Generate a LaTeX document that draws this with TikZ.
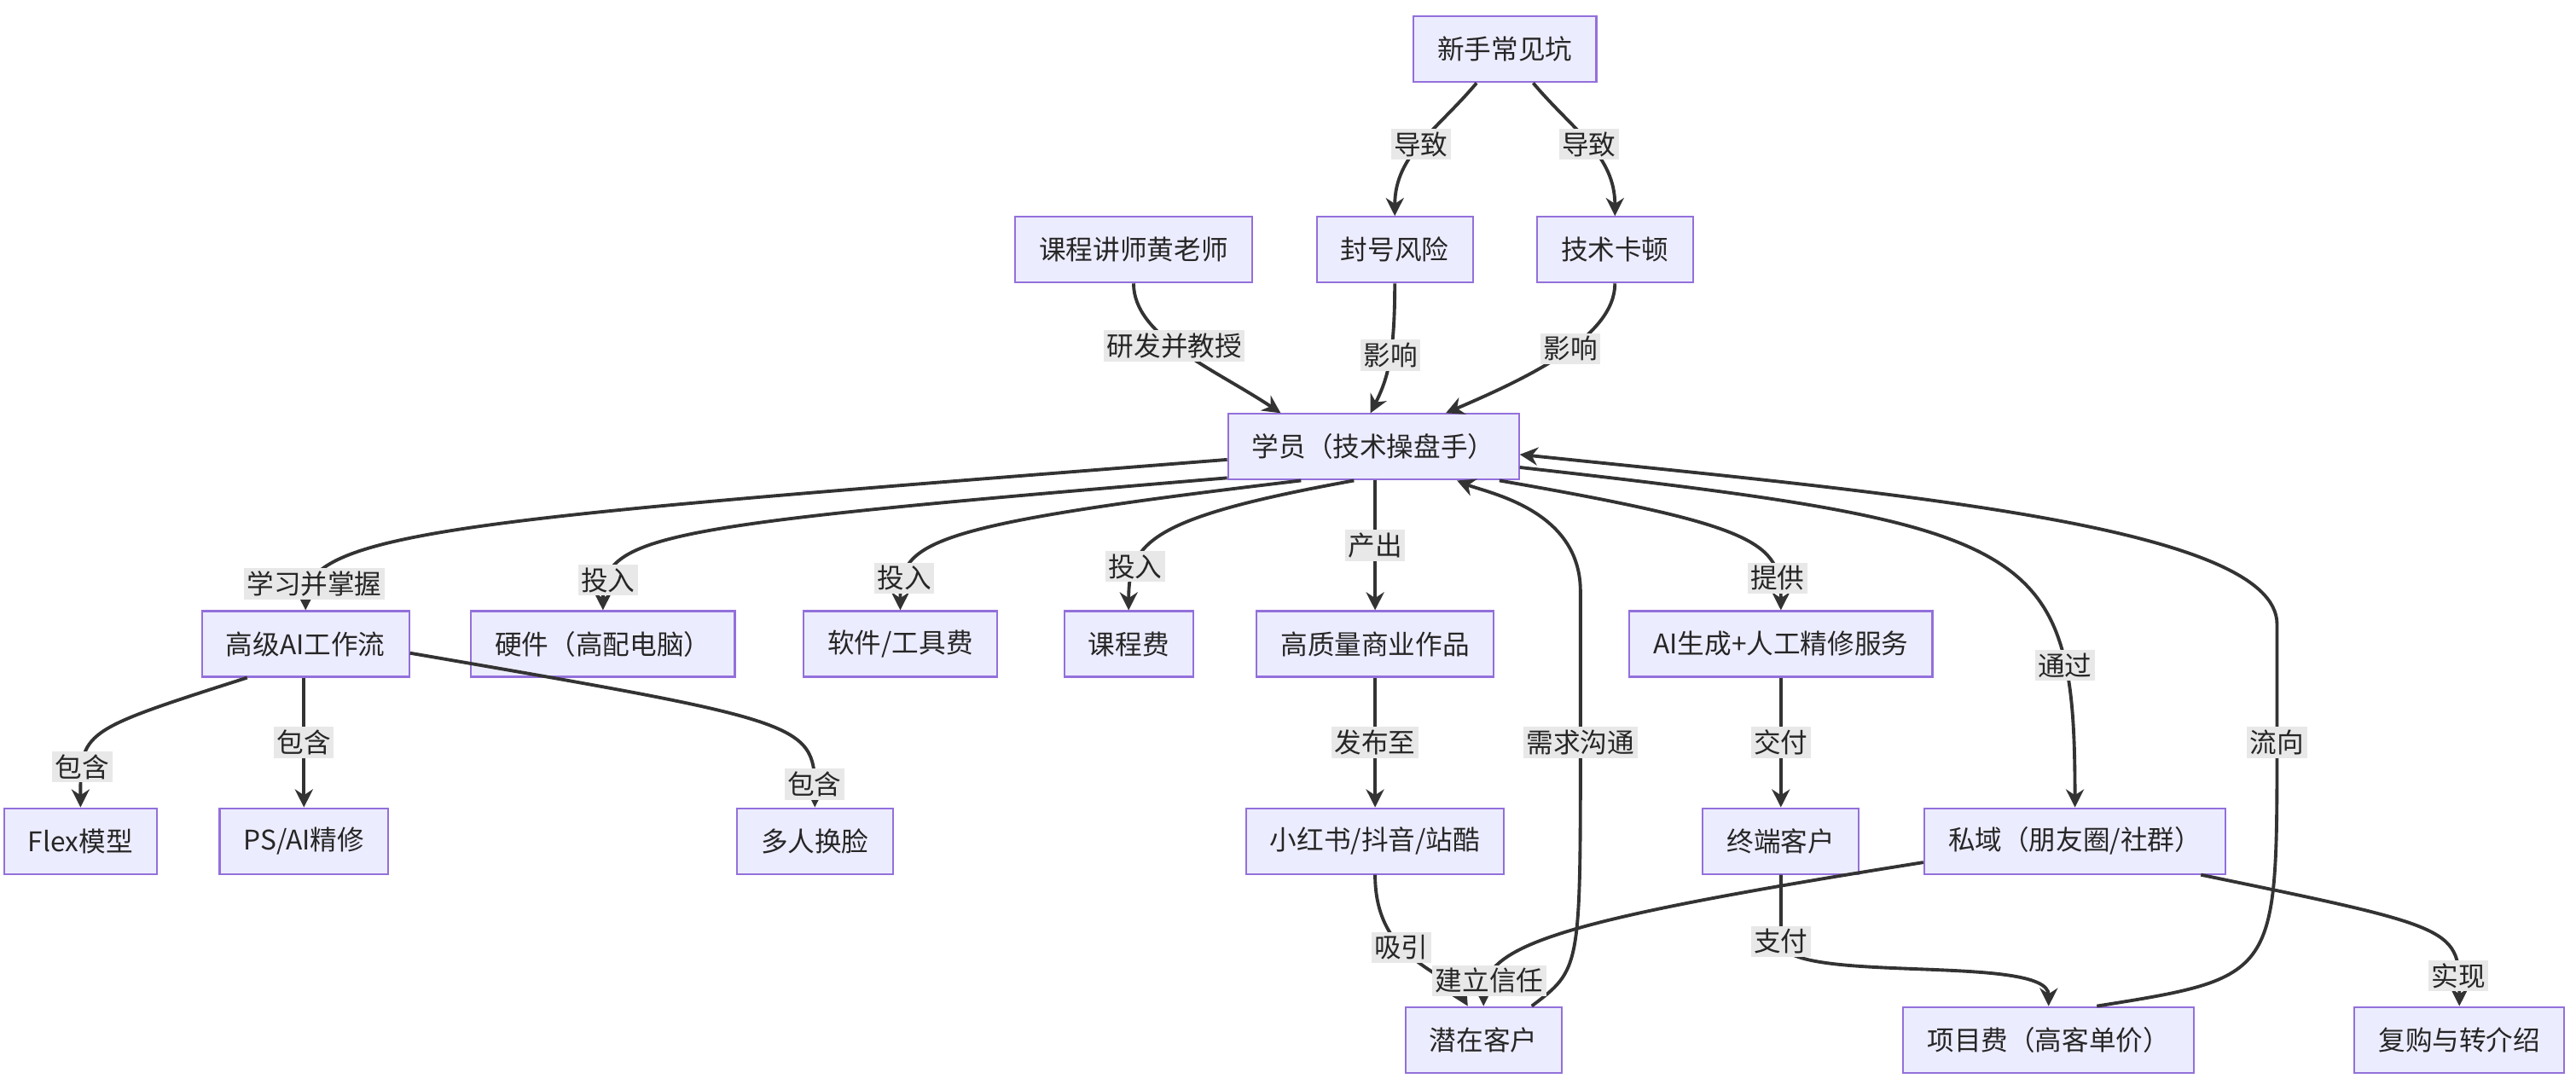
\documentclass[tikz,border=0pt]{standalone}
\usepackage{fontspec}
\setmainfont{Noto Sans CJK SC}
\usetikzlibrary{arrows.meta}
\definecolor{boxfill}{HTML}{ECECFF}
\definecolor{boxline}{HTML}{9370DB}
\definecolor{edgecol}{HTML}{333333}
\definecolor{lblfill}{HTML}{E8E8E8}

\begin{document}
\begin{tikzpicture}[x=0.01926cm, y=-0.01926cm,
  box/.style={rectangle, draw=boxline, fill=boxfill, line width=0.6pt, minimum height=0.77cm, inner xsep=8pt, font=\fontsize{9}{11}\selectfont, text=black!85},
  lbl/.style={fill=lblfill, inner sep=1pt, font=\fontsize{9}{11}\selectfont, text=black!85},
  flow/.style={draw=edgecol, line width=1.1pt, -{Stealth[length=6pt,width=6pt]}}]
	\useasboundingbox (0,0) rectangle (1568,663.5);
	% Nodes
	\node[box] (pit) at (916,30) {新手常见坑};
	\node[box] (tch) at (690,152) {课程讲师黄老师};
	\node[box] (fh) at (849,152) {封号风险};
	\node[box] (jd) at (983,152) {技术卡顿};
	\node[box] (st) at (836,272) {学员（技术操盘手）};
	\node[box] (ai) at (186,392) {高级AI工作流};
	\node[box] (hw) at (367,392) {硬件（高配电脑）};
	\node[box] (sw) at (548,392) {软件/工具费};
	\node[box] (kc) at (687,392) {课程费};
	\node[box] (pro) at (837,392) {高质量商业作品};
	\node[box] (svc) at (1084,392) {AI生成+人工精修服务};
	\node[box] (flex) at (49,512) {Flex模型};
	\node[box] (ps) at (185,512) {PS/AI精修};
	\node[box] (face) at (496,512) {多人换脸};
	\node[box] (xhs) at (837,512) {小红书/抖音/站酷};
	\node[box] (zd) at (1084,512) {终端客户};
	\node[box] (sy) at (1263,512) {私域（朋友圈/社群）};
	\node[box] (qz) at (903,633) {潜在客户};
	\node[box] (xm) at (1247,633) {项目费（高客单价）};
	\node[box] (fg) at (1497,633) {复购与转介绍};
	% Edges with labels
	\draw[flow] (pit) to[out=-130,in=90] node[lbl]{导致} (fh);
	\draw[flow] (pit) to[out=-50,in=90] node[lbl]{导致} (jd);
	\draw[flow] (tch) .. controls (690,205) and (740,225) .. node[lbl, pos=0.45]{研发并教授} (st.160);
	\draw[flow] (fh) .. controls (849,215) and (845,230) .. node[lbl, pos=0.45]{影响} (st.95);
	\draw[flow] (jd) .. controls (983,205) and (930,230) .. node[lbl, pos=0.45]{影响} (st.25);
	\draw[flow] (st.-175) .. controls (300,315) and (186,322) .. node[lbl, pos=0.88]{学习并掌握} (ai.north);
	\draw[flow] (st.-168) .. controls (400,320) and (367,325) .. node[lbl, pos=0.85]{投入} (hw.north);
	\draw[flow] (st.-155) .. controls (560,320) and (548,330) .. node[lbl, pos=0.82]{投入} (sw.north);
	\draw[flow] (st.-120) .. controls (700,315) and (687,330) .. node[lbl, pos=0.75]{投入} (kc.north);
	\draw[flow] (st.south -| pro) -- node[lbl]{产出} (pro);
	\draw[flow] (st.-15) .. controls (1070,320) and (1084,330) .. node[lbl, pos=0.82]{提供} (svc.north);
	\draw[flow] (st.-8) .. controls (1240,320) and (1263,330) .. node[lbl, pos=0.78]{通过} (sy.north);
	\draw[flow] (ai.210) .. controls (49,445) .. node[lbl, pos=0.78]{包含} (flex.north);
	\draw[flow] (ai.south -| ps) -- node[lbl]{包含} (ps);
	\draw[flow] (ai.-5) .. controls (496,440) .. node[lbl, pos=0.9]{包含} (face.north);
	\draw[flow] (pro) -- node[lbl]{发布至} (xhs);
	\draw[flow] (svc) -- node[lbl]{交付} (zd);
	\draw[flow] (xhs.south) .. controls (837,585) and (880,590) .. node[lbl, pos=0.4]{吸引} (qz.115);
	\draw[flow] (qz.35) .. controls (962,590) .. (962,452) node[lbl]{需求沟通} -- (962,360) .. controls (962,310) and (905,300) .. (st.-22);
	\draw[flow] (sy.-172) .. controls (950,560) and (903,575) .. node[lbl, pos=0.85]{建立信任} (qz.north);
	\draw[flow] (zd.south) -- (1084,573) node[lbl]{支付} .. controls (1084,600) and (1247,580) .. (xm.north);
	\draw[flow] (xm.35) .. controls (1386,595) .. (1386,452) node[lbl]{流向} -- (1386,380) .. controls (1386,320) and (1150,300) .. (st.-3);
	\draw[flow] (sy.-15) .. controls (1497,565) .. node[lbl, pos=0.85]{实现} (fg.north);
\end{tikzpicture}
\end{document}
